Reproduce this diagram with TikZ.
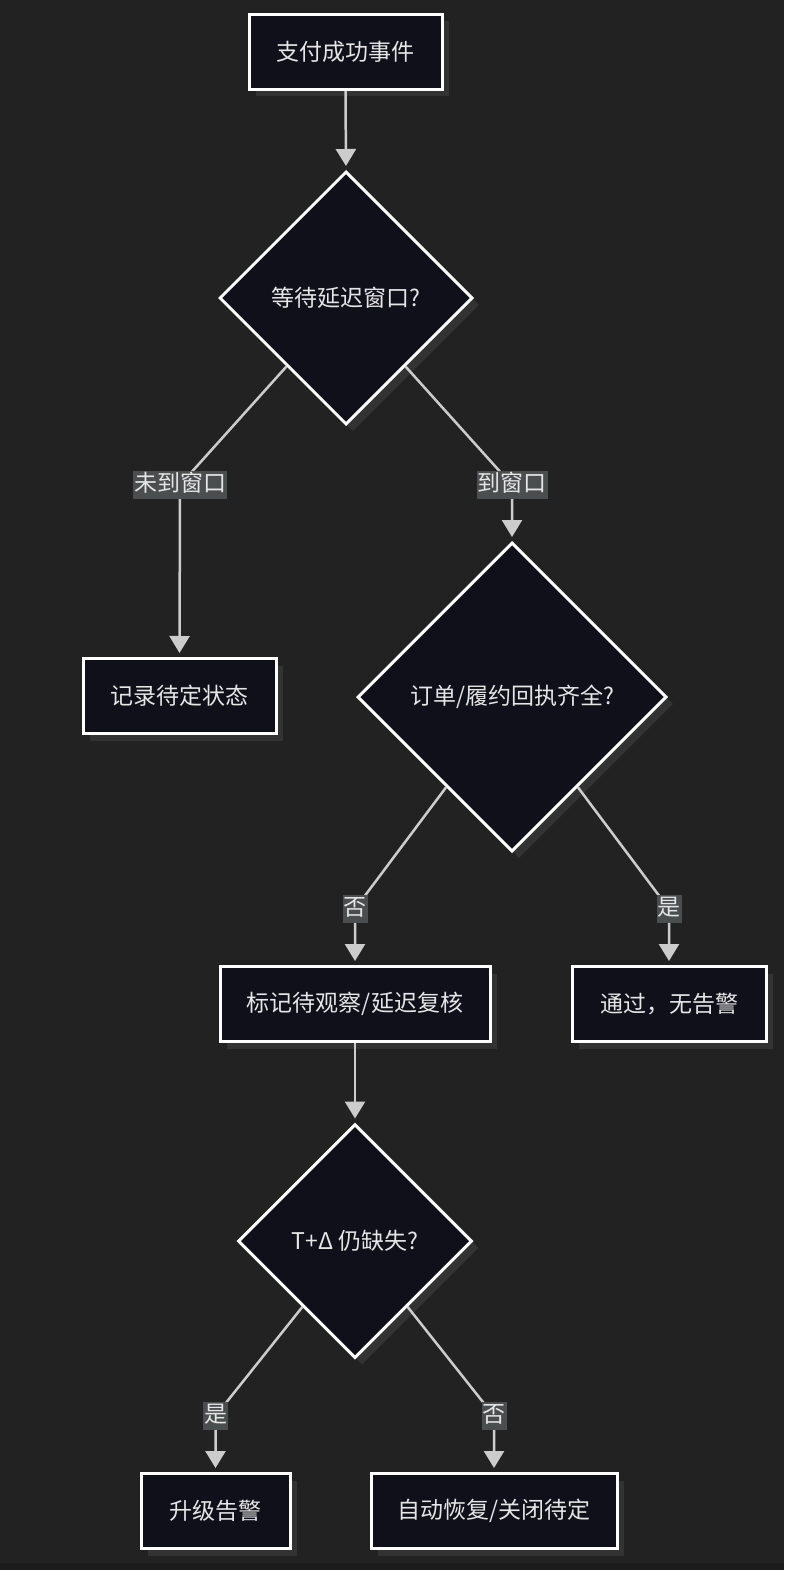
\documentclass[tikz,border=0pt]{standalone}
\usepackage{fontspec}
\setmainfont{Noto Sans CJK SC}
\usetikzlibrary{shapes.geometric,arrows.meta,calc,shadows}
\definecolor{bgc}{HTML}{222222}
\definecolor{nodefill}{HTML}{10101A}
\definecolor{edgec}{HTML}{CCCCCC}
\definecolor{lblfill}{HTML}{4A4E4E}
\definecolor{txtc}{HTML}{E6E6E6}
\definecolor{shadc}{HTML}{333333}
\definecolor{stripc}{HTML}{1B1B1B}
\tikzset{
  base/.style={draw=white, line width=3pt, fill=nodefill, text=txtc,
    font=\fontsize{23}{27}\selectfont, inner sep=0pt,
    drop shadow={shadow xshift=7pt, shadow yshift=-7pt, fill=shadc, opacity=1}},
  box/.style={base, rectangle, minimum height=75pt},
  dia/.style={base, diamond, aspect=1},
  conn/.style={draw=edgec, line width=2.5pt, shorten >=4pt,
    -{Triangle[width=20pt,length=17pt]}},
  lbl/.style={fill=lblfill, text=txtc, font=\fontsize{23}{27}\selectfont,
    inner xsep=1pt, inner ysep=3pt, text height=17.5pt, text depth=5pt}
}
\begin{document}
\begin{tikzpicture}[x=1pt,y=-1pt]
\fill[bgc] (0,0) rectangle (784,1570);
\fill[stripc] (0,1563) rectangle (784,1570);
\useasboundingbox (0,0) rectangle (784,1570);

\node[box, minimum width=193pt] (n1) at (345.5,52) {支付成功事件};
\node[dia, minimum size=253pt] (d1) at (346,298) {等待延迟窗口?};
\node[box, minimum width=193pt] (n2) at (179.5,696) {记录待定状态};
\node[dia, minimum size=309pt] (d2) at (512,697) {订单/履约回执齐全?};
\node[box, minimum width=270pt] (n3) at (355,1004) {标记待观察/延迟复核};
\node[box, minimum width=194pt] (n4) at (669,1004) {通过，无告警};
\node[dia, minimum size=234pt] (d3) at (355,1241) {T+Δ 仍缺失?};
\node[box, minimum width=149pt] (n5) at (215.5,1511) {升级告警};
\node[box, minimum width=246pt] (n6) at (494,1511) {自动恢复/关闭待定};

\coordinate (s1) at ($(d1.west)!0.535!(d1.south)$);
\coordinate (s2) at ($(d1.east)!0.535!(d1.south)$);
\coordinate (s3) at ($(d2.west)!0.578!(d2.south)$);
\coordinate (s4) at ($(d2.east)!0.578!(d2.south)$);
\coordinate (s5) at ($(d3.west)!0.556!(d3.south)$);
\coordinate (s6) at ($(d3.east)!0.556!(d3.south)$);
\coordinate (b1) at (180,485);
\coordinate (b2) at (512,485);
\coordinate (b3) at (355,909);
\coordinate (b4) at (669,909);
\coordinate (b5) at (215.5,1416);
\coordinate (b6) at (494,1416);

\draw[conn] (n1.south) -- (d1.north);
\draw[conn] (s1) -- (b1) -- (n2.north);
\draw[conn] (s2) -- (b2) -- (d2.north);
\draw[conn] (s3) -- (b3) -- (n3.north);
\draw[conn] (s4) -- (b4) -- (n4.north);
\draw[conn] (n3.south) -- (d3.north);
\draw[conn] (s5) -- (b5) -- (n5.north);
\draw[conn] (s6) -- (b6) -- (n6.north);

\node[lbl] (l1) at (b1) {未到窗口};
\node[lbl] (l2) at (b2) {到窗口};
\node[lbl] (l3) at (b3) {否};
\node[lbl] (l4) at (b4) {是};
\node[lbl] (l5) at (b5) {是};
\node[lbl] (l6) at (b6) {否};
\end{tikzpicture}
\end{document}
